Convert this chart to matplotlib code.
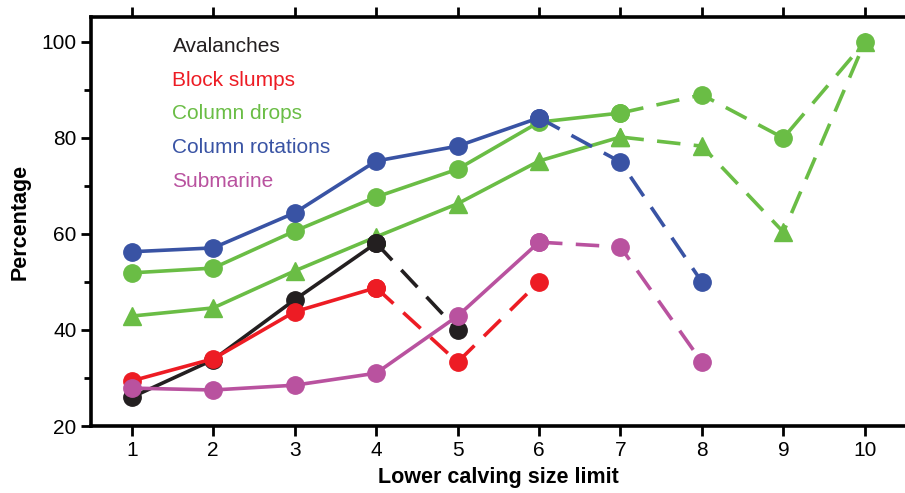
import numpy as np
import matplotlib
matplotlib.use("Agg")
import matplotlib.pyplot as plt

plt.rcParams['font.family'] = ['Liberation Sans', 'DejaVu Sans']

# values (percent)
x = np.arange(1, 11)
avalanches = [26.0, 33.8, 46.3, 58.1, 40.0]
block_slumps = [29.4, 34.0, 43.8, 48.8, 33.3, 50.0]
drops_circle = [51.9, 52.9, 60.6, 67.7, 73.5, 83.3, 85.2, 89.0, 80.0, 100.0]
drops_triangle = [42.9, 44.6, 52.3, 59.4, 66.3, 75.2, 80.2, 78.3, 60.4, 100.0]
rotations = [56.3, 57.1, 64.4, 75.2, 78.3, 84.2, 75.0, 50.0]
submarine = [27.9, 27.5, 28.5, 31.0, 42.9, 58.3, 57.3, 33.3]

labels = ['Avalanches', 'Block slumps', 'Column drops', 'Column rotations', 'Submarine']
colors = ['#231f20', '#ed1c24', '#6abd45', '#3953a4', '#b9529f']

fig = plt.figure(figsize=(9.05, 4.93), dpi=100)
ax = fig.add_axes([0.1006, 0.1359, 0.9, 0.8296])


def draw(vals, n_solid, color, marker='o', ms=12.5):
    vals = np.asarray(vals)
    xs = x[:len(vals)]
    ax.plot(xs[:n_solid], vals[:n_solid], color=color, lw=2.6, marker=marker,
            ms=ms, solid_capstyle='butt')
    if len(vals) > n_solid:
        ax.plot(xs[n_solid - 1:], vals[n_solid - 1:], color=color, lw=2.6,
                marker=marker, ms=ms, dashes=(6.5, 3.7), dash_capstyle='butt')


draw(drops_triangle, 7, colors[2], marker='^', ms=13.5)
draw(drops_circle, 7, colors[2])
draw(avalanches, 4, colors[0])
draw(block_slumps, 4, colors[1])
draw(rotations, 6, colors[3])
draw(submarine, 6, colors[4])

# legend as coloured text
for i, (lab, c) in enumerate(zip(labels, colors)):
    ax.text(1.5, 99 - 7 * i, lab, color=c, fontsize=15, va='center', ha='left')

ax.set_xlim(0.5, 10.5)
ax.set_ylim(20, 105.2)
ax.set_xticks(x)
ax.set_yticks([20, 40, 60, 80, 100])
ax.set_yticks([30, 50, 70, 90], minor=True)
ax.tick_params(axis='both', which='major', labelsize=15, width=2, length=7, direction='out')
ax.tick_params(axis='y', which='minor', width=2, length=5, direction='out')
ax.tick_params(axis='x', top=True, bottom=True)
ax.spines['right'].set_visible(False)
for s in ['left', 'bottom', 'top']:
    ax.spines[s].set_linewidth(2.6)
ax.set_xlabel('Lower calving size limit', fontsize=15.5, fontweight='bold', labelpad=5)
ax.set_ylabel('Percentage', fontsize=15.5, fontweight='bold', labelpad=8)

fig.savefig('out.png', dpi=100)
